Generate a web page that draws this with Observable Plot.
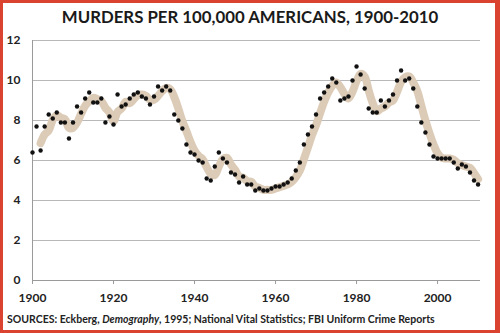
<!DOCTYPE html>
<html>
<head>
<meta charset="utf-8">
<script src="https://cdn.jsdelivr.net/npm/d3@7"></script>
<script src="https://cdn.jsdelivr.net/npm/@observablehq/plot@0.6"></script>
<style>
  html, body { margin: 0; padding: 0; background: #fff; }
  #wrap { position: relative; width: 500px; height: 333px; overflow: hidden; background: #fff; font-family: Lato, "Open Sans", sans-serif; }
  #frame { position: absolute; left: 0; top: 0; width: 500px; height: 333px; box-sizing: border-box; border: 3px solid #d9432f; border-right-width: 5px; pointer-events: none; }
  #title { height: 34px; line-height: 34px; text-align: center; font-weight: 700; font-size: 16.8px; color: #1a1a1a; }
  #caption { height: 27px; line-height: 27px; padding-left: 7px; font-weight: 700; font-size: 10.5px; color: #222; white-space: nowrap; }
  svg { display: block; }
</style>
</head>
<body>
<div id="wrap">
  <div id="title">MURDERS PER 100,000 AMERICANS, 1900-2010</div>
  <div id="chart"></div>
  <div id="caption">SOURCES: Eckberg, <i>Demography</i>, 1995; National Vital Statistics; FBI Uniform Crime Reports</div>
  <div id="frame"></div>
</div>
<script>
const years = d3.range(1900, 2011);
const rates = [
  6.4, 7.7, 6.5, 7.7, 8.3, 8.1, 8.4, 7.9, 7.9, 7.1,
  7.9, 8.7, 8.4, 9.1, 9.4, 8.9, 8.9, 9.1, 7.9, 8.2,
  7.8, 9.3, 8.7, 8.8, 9.1, 9.3, 9.4, 9.2, 9.1, 8.8,
  9.2, 9.7, 9.5, 9.7, 9.5, 8.3, 8.0, 7.6, 6.8, 6.4,
  6.3, 6.0, 5.9, 5.1, 5.0, 5.7, 6.4, 6.1, 5.9, 5.4,
  5.3, 4.9, 5.2, 4.8, 4.8, 4.5, 4.6, 4.5, 4.5, 4.6,
  4.7, 4.7, 4.8, 4.9, 5.1, 5.5, 5.9, 6.8, 7.3, 7.7,
  8.3, 9.1, 9.4, 9.7, 10.1, 9.9, 9.0, 9.1, 9.2, 10.0,
  10.7, 10.3, 9.6, 8.6, 8.4, 8.4, 9.0, 8.7, 9.0, 9.3,
  10.0, 10.5, 10.0, 10.1, 9.6, 8.7, 7.9, 7.4, 6.8, 6.2,
  6.1, 6.1, 6.1, 6.1, 5.9, 5.6, 5.8, 5.7, 5.4, 5.0,
  4.8
];
const xTicks = [1900, 1920, 1940, 1960, 1980, 2000];
const yTicks = [0, 2, 4, 6, 8, 10, 12];

const data = years.map((year, i) => ({year, rate: rates[i]}));

const chart = Plot.plot({
  width: 500,
  height: 272,
  marginLeft: 32,
  marginRight: 20,
  marginTop: 6,
  marginBottom: 26,
  style: {fontFamily: "Lato, 'Open Sans', sans-serif", fontSize: "12px", fontWeight: 700, color: "#222", background: "transparent", overflow: "visible"},
  x: {domain: [1900, 2010.6], label: null},
  y: {domain: [0, 12], label: null},
  marks: [
    Plot.gridY(yTicks.filter(d => d > 0), {stroke: "#b8b8b8", strokeOpacity: 1, strokeWidth: 1}),
    Plot.ruleY([0], {stroke: "#9a9a9a"}),
    Plot.ruleX([1900], {stroke: "#9a9a9a"}),
    Plot.lineY(data, Plot.windowY({k: 3, anchor: "end", strict: true},
      {x: "year", y: "rate", curve: "catmull-rom", stroke: "#dccbb7", strokeWidth: 8, strokeLinecap: "round"})),
    Plot.dot(data, {x: "year", y: "rate", r: 2.2, fill: "#111", stroke: "none"}),
    Plot.axisX(xTicks, {label: null, tickSize: 4, tickPadding: 9, tickFormat: d => String(d), stroke: "#9a9a9a", fill: "#222"}),
    Plot.axisY(yTicks, {label: null, tickSize: 0, tickPadding: 12, fill: "#222"})
  ]
});
document.getElementById("chart").appendChild(chart);
</script>
</body>
</html>
